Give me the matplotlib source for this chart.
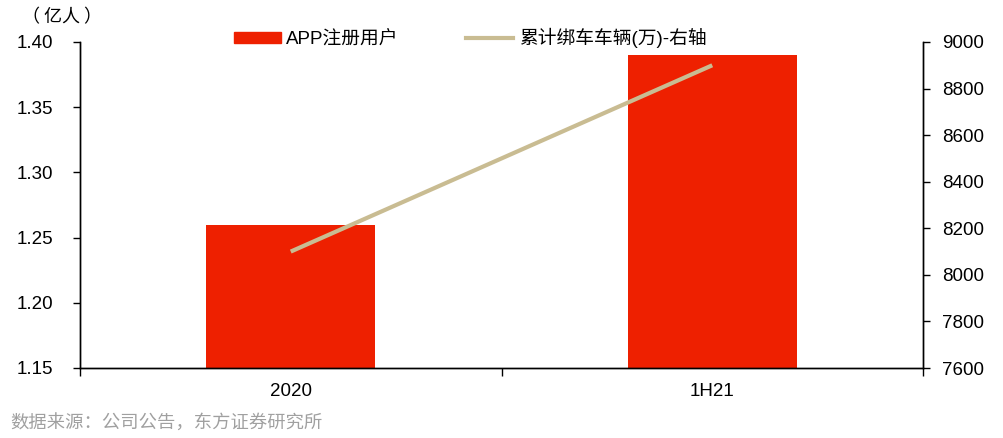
import matplotlib
matplotlib.use("Agg")
import matplotlib.pyplot as plt
from matplotlib.lines import Line2D
from matplotlib.patches import Patch

plt.rcParams['font.family'] = ['Liberation Sans', 'Noto Sans CJK SC', 'DejaVu Sans']

categories = ["2020", "1H21"]
app_users = [1.26, 1.39]          # 亿人
bound_vehicles = [8100, 8900]     # 万辆
left_ticks = [1.15, 1.20, 1.25, 1.30, 1.35, 1.40]
right_ticks = [7600, 7800, 8000, 8200, 8400, 8600, 8800, 9000]

bar_color = "#EE2000"
line_color = "#C9BC92"
fs = 13.5

fig = plt.figure(figsize=(10.04, 4.38), dpi=100)
ax = fig.add_axes([80 / 1004, 1 - 368 / 438, 843 / 1004, 326 / 438])
ax2 = ax.twinx()

x = list(range(len(categories)))
ax.bar(x, [v - left_ticks[0] for v in app_users], bottom=left_ticks[0],
       width=0.4, color=bar_color, zorder=2)
ax2.plot(x, bound_vehicles, color=line_color, lw=3, solid_capstyle='butt', zorder=3)

ax.set_xlim(-0.5, len(categories) - 0.5)
ax.set_ylim(left_ticks[0], left_ticks[-1])
ax2.set_ylim(right_ticks[0], right_ticks[-1])

ax.set_yticks(left_ticks)
ax.set_yticklabels([f"{v:.2f}" for v in left_ticks])
ax2.set_yticks(right_ticks)
ax2.set_yticklabels([str(v) for v in right_ticks])

# category boundaries as major ticks, labels on minor ticks at centres
ax.set_xticks([-0.5, 0.5, 1.5])
ax.set_xticklabels([])
ax.set_xticks(x, minor=True)
ax.set_xticklabels(categories, minor=True)
ax.tick_params(axis='x', which='major', length=6, width=1, direction='out')
ax.tick_params(axis='x', which='minor', length=0, pad=11, labelsize=fs)

ax.tick_params(axis='y', length=5, width=1, direction='out', labelsize=fs, pad=14)
ax2.tick_params(axis='y', length=5, width=1, direction='out', labelsize=fs, pad=9)

for a in (ax, ax2):
    a.spines['top'].set_visible(False)
    for s in ('left', 'right', 'bottom'):
        a.spines[s].set_color('black')
        a.spines[s].set_linewidth(1)

fig.text(22 / 1004, 1 - 17 / 438, "（ 亿人 ）", fontsize=13,
         family=['Noto Sans CJK SC', 'DejaVu Sans'], va='center', ha='left')

handles = [Patch(color=bar_color), Line2D([0], [0], color=line_color, lw=3)]
labels = ["APP注册用户", "累计绑车车辆(万)-右轴"]
fig.legend(handles, labels, loc='center', bbox_to_anchor=(470 / 1004, 1 - 38 / 438),
           ncol=2, frameon=False, handlelength=2.5,
           handleheight=0.55, columnspacing=3.6, handletextpad=0.3,
           prop={'family': ['Liberation Sans', 'Noto Sans CJK SC'], 'size': fs})

fig.text(10 / 1004, 1 - 424 / 438, "数据来源：公司公告，东方证券研究所", fontsize=13.2,
         color='#A0A0A0', family=['Noto Sans CJK SC', 'DejaVu Sans'],
         va='center', ha='left')

fig.savefig("out.png", dpi=100)
